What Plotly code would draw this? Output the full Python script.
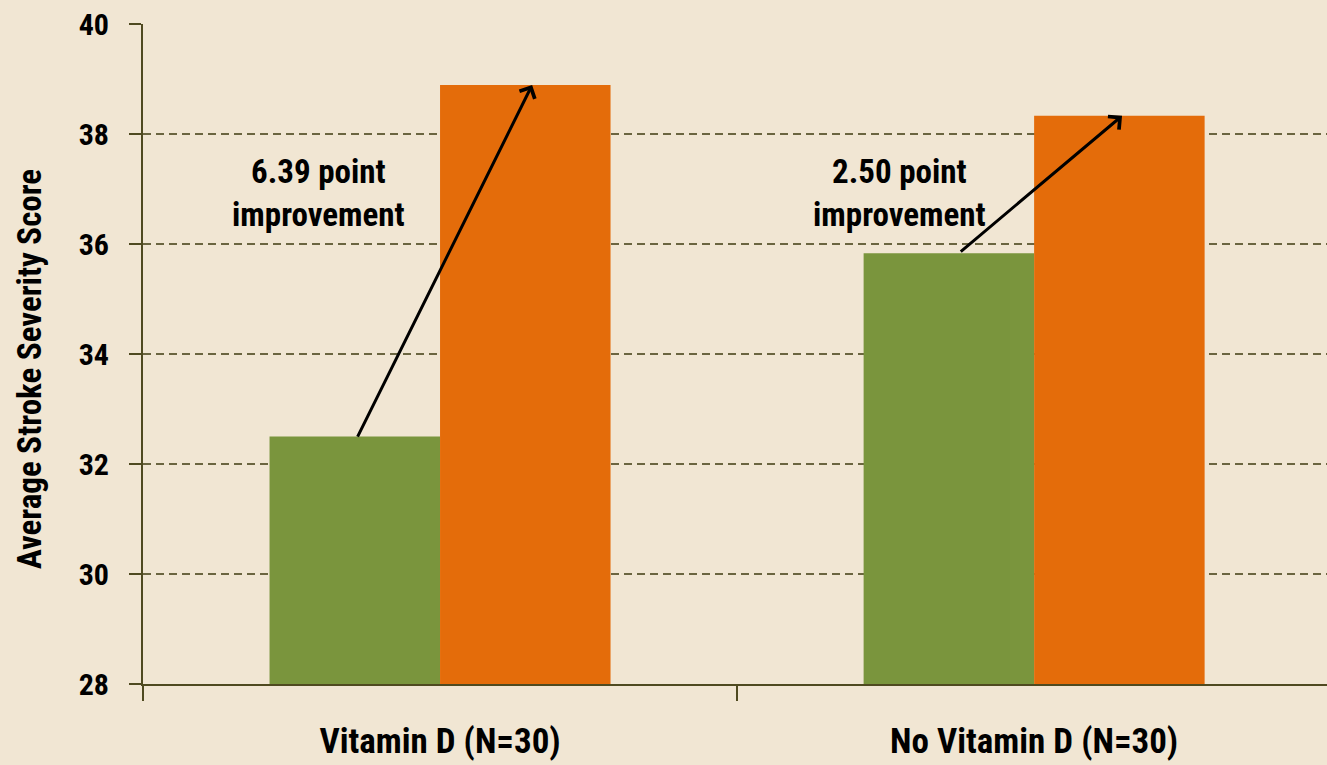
import plotly.graph_objects as go

categories = ["Vitamin D (N=30)", "No Vitamin D (N=30)"]
before_scores = [32.5, 35.83]
after_scores = [38.89, 38.33]
improvement_labels = ["6.39 point<br>improvement", "2.50 point<br>improvement"]
y_ticks = [28, 30, 32, 34, 36, 38, 40]
y_title = "Average Stroke Severity Score"

FONT = "Roboto Condensed, Open Sans Condensed, DejaVu Sans Condensed, sans-serif"
BG = "#F1E6D3"
AXIS = "#4F4A20"

fig = go.Figure()
fig.add_trace(go.Bar(x=categories, y=before_scores, marker_color="#7A953D",
                     marker_line_width=0, name="Before"))
fig.add_trace(go.Bar(x=categories, y=after_scores, marker_color="#E46C0A",
                     marker_line_width=0, name="After"))

# arrows from top of green bar to top of orange bar
arrow_tail_x = [-0.14, 0.874]
arrow_head_x = [0.155, 1.148]
arrow_tail_y = [32.47, 35.84]
for i in range(2):
    fig.add_annotation(x=arrow_head_x[i], y=after_scores[i], ax=arrow_tail_x[i], ay=arrow_tail_y[i],
                       xref="x", yref="y", axref="x", ayref="y", showarrow=True,
                       arrowhead=4, arrowsize=1.1, arrowwidth=3, arrowcolor="black", text="",
                       standoff=0, startstandoff=0)

label_x = [-0.205, 0.773]
for i in range(2):
    fig.add_annotation(x=label_x[i], y=36.93, xref="x", yref="y", text=improvement_labels[i],
                       showarrow=False, font=dict(family=FONT, size=33, color="black", weight="bold"),
                       align="center")

# y-axis title placed as rotated annotation (reference is offset slightly below centre)
fig.add_annotation(x=-0.114, y=33.72, xref="paper", yref="y", text=y_title, textangle=-90,
                   showarrow=False, font=dict(family=FONT, size=33, color="black", weight="bold"))

fig.update_layout(
    width=1327, height=765,
    paper_bgcolor=BG, plot_bgcolor=BG,
    barmode="group", bargap=0.426, bargroupgap=0,
    showlegend=False,
    margin=dict(l=143, r=0, t=24, b=81),
    font=dict(family=FONT, color="black", weight="bold"),
)
fig.update_xaxes(
    range=[-0.5, 1.493], showline=True, linecolor=AXIS, linewidth=2,
    ticks="outside", tickson="boundaries", ticklen=15, tickcolor=AXIS, tickwidth=2,
    tickfont=dict(family=FONT, size=35, color="black", weight="bold"), showgrid=False,
    ticklabelstandoff=25,
)
fig.update_yaxes(
    range=[28, 40], tickvals=y_ticks, showline=True, linecolor=AXIS, linewidth=2,
    ticks="outside", ticklen=12, tickcolor=AXIS, tickwidth=2,
    tickfont=dict(family=FONT, size=30, color="black", weight="bold"),
    ticklabelstandoff=14,
    showgrid=True, gridcolor="#6B6540", gridwidth=1.5, griddash="8px,5px",
    zeroline=False,
)

fig.write_html("out.html", config={"displayModeBar": False},
               post_script="document.body.style.margin='0';document.body.style.background='#F1E6D3';")
